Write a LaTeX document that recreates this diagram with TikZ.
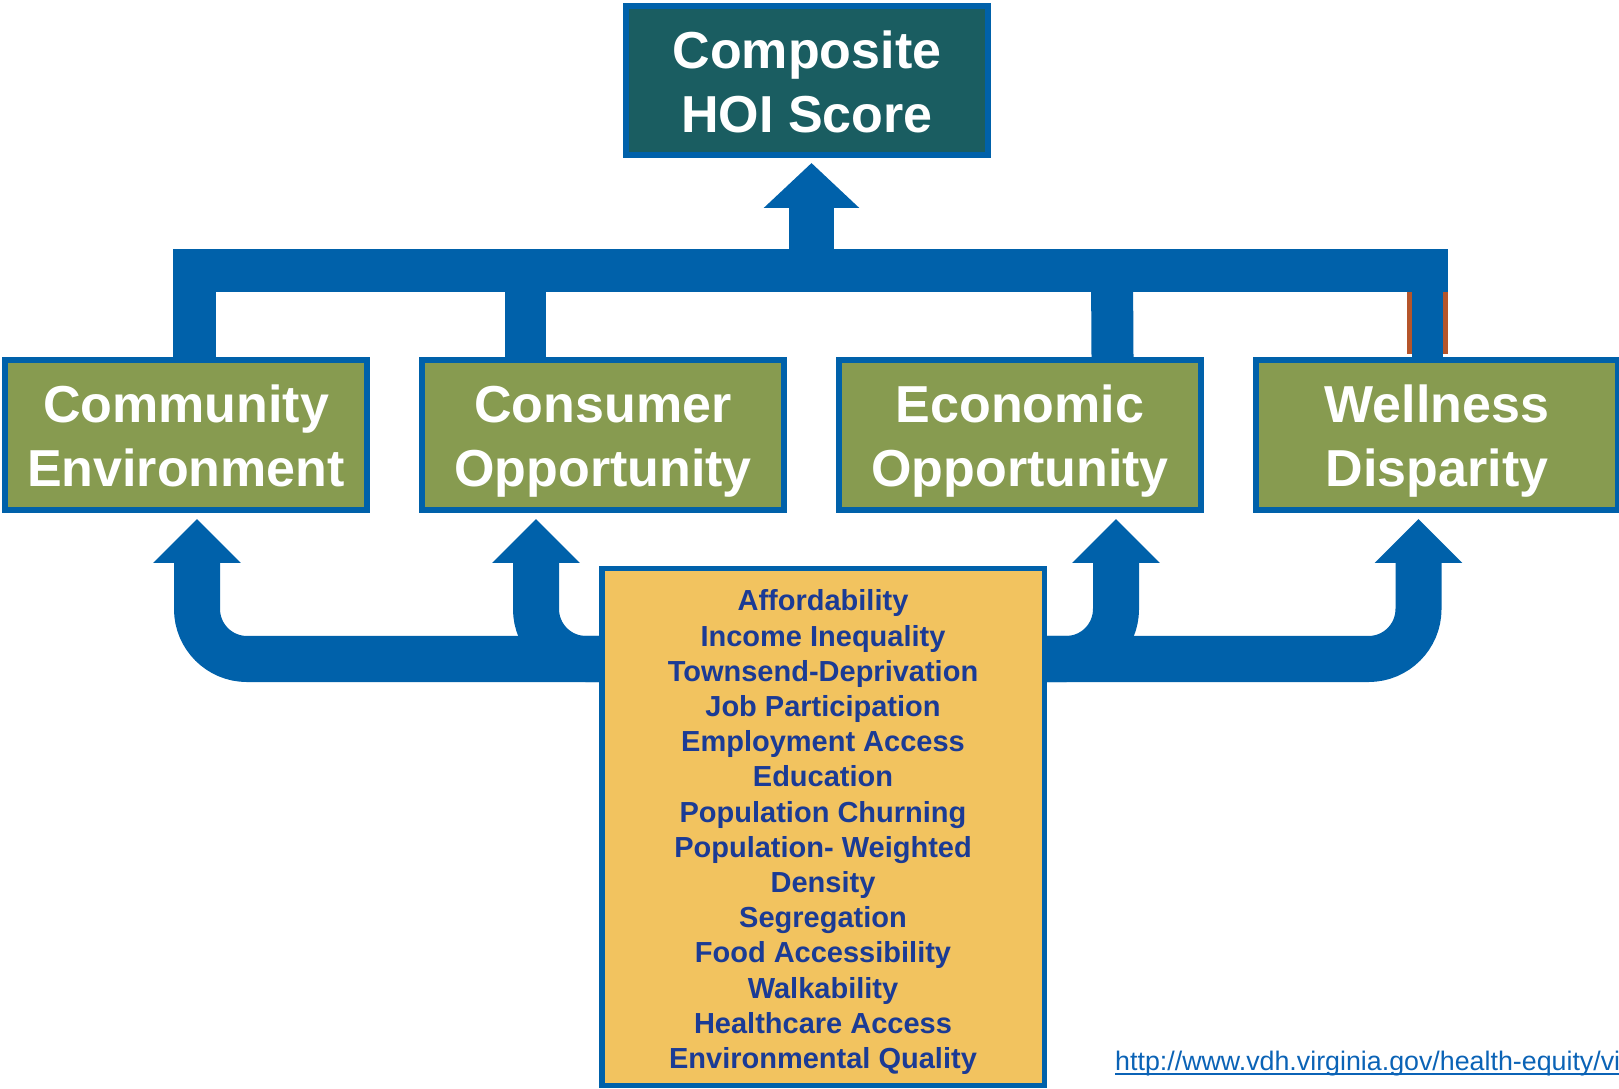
\documentclass[tikz,border=0pt]{standalone}
\usepackage{fontspec}
\setmainfont{Liberation Sans}
\usetikzlibrary{calc,arrows.meta}
\definecolor{flow}{HTML}{0061AA}
\definecolor{scorebg}{HTML}{1A5D61}
\definecolor{domainbg}{HTML}{879B50}
\definecolor{factorbg}{HTML}{F2C35F}
\definecolor{factortext}{HTML}{1B3B95}
\definecolor{linkc}{HTML}{0B63B6}
\definecolor{rust}{HTML}{B5552A}
\tikzset{
  head/.tip={Triangle[width=85pt,length=44pt]},
  tophead/.tip={Triangle[width=93pt,length=45pt]},
  hoibox/.style={draw=flow, line width=6pt, inner sep=0pt, align=center, text=white,
    font=\bfseries\fontsize{52}{64}\selectfont, text height=116pt, text depth=12pt},
  scorebox/.style={hoibox, fill=scorebg, minimum width=362pt, minimum height=149pt},
  domainbox/.style={hoibox, fill=domainbg, minimum width=362pt, minimum height=150pt},
  factorbox/.style={draw=flow, line width=5.5pt, fill=factorbg, text=factortext, inner sep=0pt,
    align=center, font=\bfseries\fontsize{29}{35.2}\selectfont,
    text height=489pt, text depth=6pt,
    minimum width=442.5pt, minimum height=516.5pt},
  barline/.style={draw=flow, line width=43pt},
  riser/.style={draw=flow, line width=46pt, rounded corners=50pt},
  linktext/.style={text=linkc, inner sep=0pt, font=\fontsize{26.8}{30}\selectfont},
}

\begin{document}
\begin{tikzpicture}[x=1pt,y=1pt]
  \useasboundingbox (0,0) rectangle (1619,1088);
  \coordinate (hub) at (811.5,817.5);
  \coordinate (low) at (823,429);
  \node[scorebox] (hoi) at (807,1007.5) {Composite\\HOI Score};
  \node[domainbox] (comm) at (186,653) {Community\\Environment};
  \node[domainbox] (cons) at (603,653) {Consumer\\Opportunity};
  \node[domainbox] (econ) at (1020,653) {Economic\\Opportunity};
  \node[domainbox] (well) at (1437,653) {Wellness\\Disparity};
  % bracket up to the score
  \draw[barline, draw=rust, line width=41pt] ([xshift=616pt]hub) -- ([xshift=-9.5pt,yshift=3pt]well.north);
  \draw[barline] ([xshift=8pt]comm.north) |- ([xshift=636pt]hub);
  \draw[barline, line width=41pt] ([xshift=-286pt]hub) -- ([xshift=-77.5pt]cons.north);
  \draw[barline, line width=42pt] ([xshift=300.5pt]hub) -- ([xshift=92.5pt]econ.north);
  \draw[barline, line width=31pt] ([xshift=616pt]hub) -- ([xshift=-9.5pt]well.north);
  \draw[riser, line width=45pt, -tophead] (hub) -- ([xshift=4.5pt,yshift=-5pt]hoi.south);
  % pipes from the factors
  \draw[riser, head-head] ([xshift=11pt,yshift=-6pt]comm.south) |- (low) -| ([xshift=-18.5pt,yshift=-6pt]well.south);
  \draw[riser, -head] (low) -| ([xshift=-67pt,yshift=-6pt]cons.south);
  \draw[riser, -head] (low) -| ([xshift=96pt,yshift=-6pt]econ.south);
  \node[factorbox] (list) at (823,261) {Affordability\\Income Inequality\\Townsend-Deprivation\\Job Participation\\Employment Access\\Education\\Population Churning\\Population- Weighted\\Density\\Segregation\\Food Accessibility\\Walkability\\Healthcare Access\\Environmental Quality};
  \node[linktext, anchor=base west] (src) at (1115,18) {http://www.vdh.virginia.gov/health-equity/vi};
  \draw[linkc, line width=1.6pt] ([yshift=-4pt]src.base west) -- ([yshift=-4pt]src.base east);
\end{tikzpicture}
\end{document}
